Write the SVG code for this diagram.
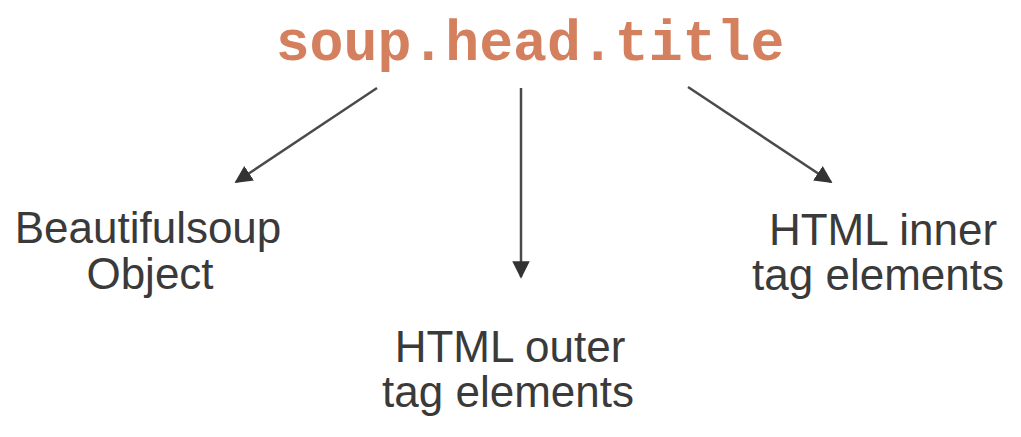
<svg xmlns="http://www.w3.org/2000/svg" width="1021" height="437" viewBox="0 0 1021 437">
<style>
.lbl{font-family:"Liberation Sans",Arial,sans-serif;font-size:44px;fill:#3a3a3a;text-anchor:middle}
.ttl{font-family:"Liberation Mono","Courier New",monospace;font-weight:bold;font-size:56.5px;fill:#D4805E;text-anchor:middle}
.con{stroke:#4a4a4a;stroke-width:2.5;fill:none;marker-end:url(#ah)}
</style>
<defs>
<marker id="ah" viewBox="0 0 10 10" refX="9" refY="5" markerWidth="7" markerHeight="7" orient="auto" markerUnits="strokeWidth">
<path d="M0,0 L10,5 L0,10 z" fill="#333"/>
</marker>
</defs>
<rect width="1021" height="437" fill="#fff"/>
<g id="title"><text class="ttl" x="530" y="60">soup.head.title</text></g>
<g id="connectors">
<line class="con" x1="377" y1="88" x2="236" y2="182"/>
<line class="con" x1="521" y1="88" x2="521" y2="277"/>
<line class="con" x1="688" y1="87" x2="831" y2="182"/>
</g>
<g id="bs-object"><text class="lbl" x="148" y="243">Beautifulsoup</text><text class="lbl" x="150" y="289">Object</text></g>
<g id="outer"><text class="lbl" x="510" y="362">HTML outer</text><text class="lbl" x="508" y="407">tag elements</text></g>
<g id="inner"><text class="lbl" x="883" y="245">HTML inner</text><text class="lbl" x="878" y="290">tag elements</text></g>
</svg>
